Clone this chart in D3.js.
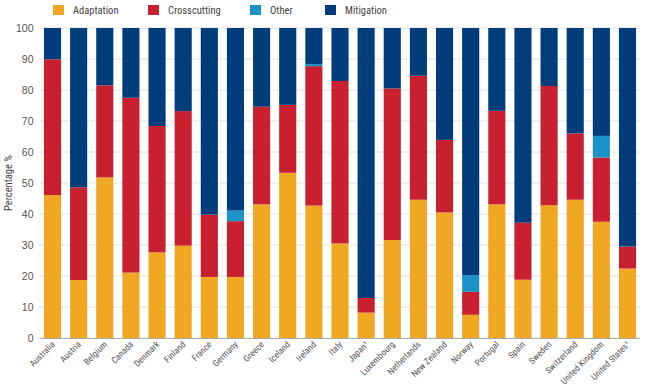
<!DOCTYPE html>
<html><head><meta charset="utf-8">
<script src="https://cdn.jsdelivr.net/npm/d3@7"></script>
<style>
body{margin:0;background:#fff;}
svg{display:block;font-family:"Liberation Sans Narrow","Roboto Condensed","Liberation Sans",sans-serif;}
</style></head>
<body><svg id="c" width="650" height="390"></svg>
<script>
const countries = ["Australia","Austria","Belgium","Canada","Denmark","Finland","France","Germany","Greece","Iceland","Ireland","Italy","Japan¹","Luxembourg","Netherlands","New Zealand","Norway","Portugal","Spain","Sweden","Switzerland","United Kingdom","United States¹"];
const adaptation   = [46.1,18.7,51.8,21.1,27.6,29.8,19.7,19.7,43.1,53.3,42.7,30.5,8.2,31.6,44.6,40.5,7.5,43.1,18.8,42.8,44.6,37.5,22.4];
const crosscutting = [43.8,29.9,29.7,56.4,40.8,43.4,20.1,18.0,31.5,21.9,45.0,52.4,4.7,48.9,40.0,23.4,7.4,30.2,18.4,38.5,21.4,20.7,7.1];
const other        = [0,0,0,0,0,0,0,3.4,0,0,0.7,0,0,0,0,0,5.4,0,0,0,0,7.0,0];
const mitigation   = countries.map((c,i)=>100-adaptation[i]-crosscutting[i]-other[i]);
const seriesNames = ["Adaptation","Crosscutting","Other","Mitigation"];
const colors = ["#F0A823","#C8202F","#1B93C9","#003D7A"];
const yTicks = [0,10,20,30,40,50,60,70,80,90,100];

const svg = d3.select("#c");
const m = {left:39.5, right:10, top:28, bottom:52};
const W = 650, H = 390;
const x = d3.scaleBand().domain(countries).range([m.left, W - m.right + 0.5]).paddingInner(0.345).paddingOuter(0.17);
const y = d3.scaleLinear().domain([0,100]).range([H - m.bottom, m.top]);

// gridlines
svg.append("g").selectAll("line").data(yTicks.slice(1)).join("line")
  .attr("x1", m.left).attr("x2", W - m.right)
  .attr("y1", d=>y(d)).attr("y2", d=>y(d))
  .attr("stroke","#e2e2e2").attr("stroke-width",1);

const rows = countries.map((c,i)=>({country:c, Adaptation:adaptation[i], Crosscutting:crosscutting[i], Other:other[i], Mitigation:mitigation[i]}));
const stack = d3.stack().keys(seriesNames)(rows);
svg.append("g").selectAll("g").data(stack).join("g")
  .attr("fill",(d,i)=>colors[i])
  .selectAll("rect").data(d=>d).join("rect")
  .attr("x", d=>x(d.data.country)).attr("width", x.bandwidth())
  .attr("y", d=>y(d[1])).attr("height", d=>Math.max(0, y(d[0]) - y(d[1])));

// x axis line
svg.append("line").attr("x1", m.left).attr("x2", W - m.right)
  .attr("y1", y(0)+0.5).attr("y2", y(0)+0.5).attr("stroke","#aaa");

// y axis
const ya = svg.append("g").attr("transform",`translate(${m.left},0)`)
  .call(d3.axisLeft(y).tickValues(yTicks).tickSize(0).tickPadding(6));
ya.select(".domain").remove();
ya.selectAll("text").attr("fill","#555").attr("font-size",10.5).style("font-family","inherit");

// x labels
svg.append("g").selectAll("text").data(countries).join("text")
  .attr("transform", d=>`translate(${x(d)+x.bandwidth()/2+3},${y(0)+7}) rotate(-45)`)
  .attr("text-anchor","end").attr("font-size",9).attr("fill","#555").text(d=>d);

// y title
svg.append("text").attr("transform",`translate(12,${(y(0)+y(100))/2}) rotate(-90)`)
  .attr("text-anchor","middle").attr("font-size",10.5).attr("fill","#444").text("Percentage %");

// legend
const legX = [53,148,250,325];
const lg = svg.append("g").selectAll("g").data(seriesNames).join("g")
  .attr("transform",(d,i)=>`translate(${legX[i]},5)`);
lg.append("rect").attr("width",11).attr("height",10).attr("fill",(d,i)=>colors[i]);
lg.append("text").attr("x",20).attr("y",9).attr("font-size",10.5).attr("fill","#444").text(d=>d);
</script></body></html>
